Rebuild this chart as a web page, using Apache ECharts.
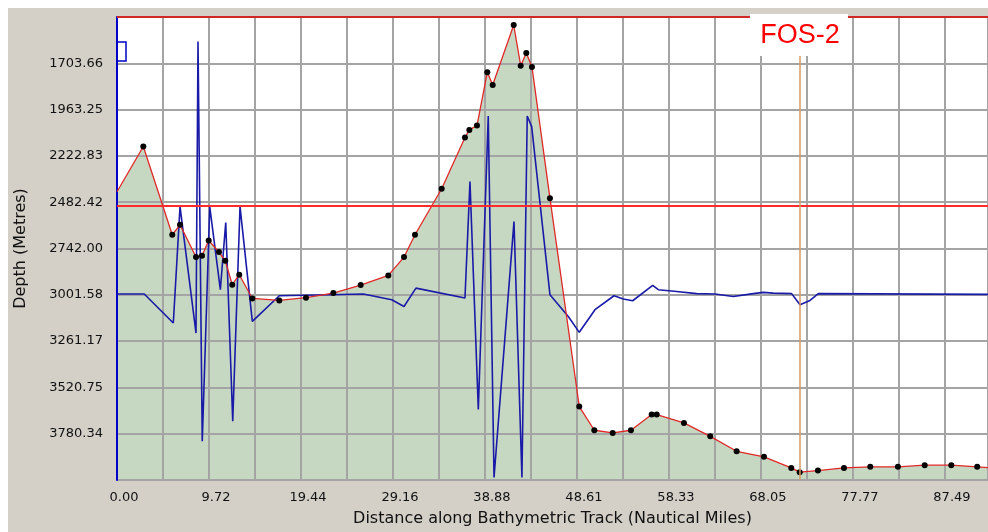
<!DOCTYPE html>
<html><head><meta charset="utf-8">
<script src="https://cdn.jsdelivr.net/npm/echarts/dist/echarts.min.js"></script>
<style>
html,body{margin:0;padding:0;background:#ffffff;}
#c{position:absolute;left:8px;top:8px;width:980px;height:524px;background:#d4d0c8;}
</style></head><body><div id="c"></div>
<script>
// ---- axes ----
const X_MIN = 0, X_MAX = 92.04, X_STEP = 4.8606;
const Y_MIN = 1444.08, Y_MAX = 4039.92, Y_STEP = 259.584;

// ---- bathymetry track (distance nm, depth m) ----
const trackDistance = [0, 2.78, 5.84, 6.66, 8.35, 8.98, 9.69, 10.78, 11.44, 12.18, 12.92, 14.30, 17.15, 19.97, 22.86, 25.75, 28.67, 30.33, 31.49, 34.31, 36.77, 37.23, 38.04, 39.13, 39.70, 41.92, 42.66, 43.25, 43.85, 45.75, 48.85, 50.44, 52.38, 54.31, 56.50, 57.03, 59.91, 62.69, 65.48, 68.37, 71.25, 72.14, 74.07, 76.82, 79.60, 82.52, 85.35, 88.16, 90.90, 92.04];
const trackDepth = [2424, 2170, 2665, 2609, 2790, 2783, 2697, 2762, 2811, 2945, 2889, 3022, 3033, 3018, 2992, 2947, 2893, 2790, 2665, 2407, 2120, 2077, 2053, 1754, 1825, 1489, 1717, 1646, 1724, 2460, 3628, 3761, 3776, 3761, 3673, 3673, 3720, 3795, 3879, 3910, 3972, 3996, 3987, 3972, 3966, 3966, 3957, 3957, 3966, 3970];

// ---- blue trace ----
const blueDistance = [0, 2.88, 5.95, 6.66, 8.35, 8.56, 9.01, 9.80, 10.92, 11.49, 12.23, 13.00, 14.30, 17.15, 22.51, 26.03, 29.03, 30.33, 31.59, 36.77, 37.30, 38.18, 39.23, 39.84, 41.95, 42.79, 43.35, 43.82, 45.75, 47.69, 48.85, 50.51, 52.52, 53.50, 54.49, 56.61, 57.20, 59.14, 61.25, 63.19, 65.12, 67.24, 68.29, 69.35, 71.29, 72.17, 73.23, 74.11, 92.04];
const blueDepth = [2997, 2997, 3160, 2507, 3216, 1582, 3823, 2507, 2973, 2596, 3711, 2507, 3151, 3007, 3001, 2997, 3029, 3067, 2964, 3020, 2367, 3645, 1999, 4026, 2591, 4026, 1999, 2059, 3001, 3123, 3212, 3085, 3007, 3025, 3035, 2949, 2973, 2983, 2995, 2997, 3011, 2995, 2988, 2992, 2995, 3057, 3033, 2995, 2999];

// ---- reference lines ----
const SURFACE_LINE = 1444.08;
const REF_DEPTH = 2500.9;
const FOS_X = 72.17;
const FOS_LABEL = 'FOS-2';

const trackData = trackDistance.map((d, i) => [d, trackDepth[i]]);
const blueData = blueDistance.map((d, i) => [d, blueDepth[i]]);
const lastIdx = trackData.length - 1;

const FONT = 'DejaVu Sans';
const chart = echarts.init(document.getElementById('c'));
chart.setOption({
  backgroundColor: '#d4d0c8',
  animation: false,
  grid: { left: 109, top: 9, right: 0, bottom: 52, show: true, backgroundColor: '#ffffff', borderWidth: 0, z: 0,
          containLabel: false, outerBoundsMode: 'none' },
  xAxis: {
    type: 'value', min: X_MIN, max: X_MAX, interval: X_STEP, z: 2,
    name: 'Distance along Bathymetric Track (Nautical Miles)', nameLocation: 'middle', nameGap: 31,
    nameTextStyle: { fontFamily: FONT, fontSize: 16, color: '#111' },
    axisLine: { show: false }, axisTick: { show: false },
    axisLabel: {
      showMaxLabel: false, margin: 11, padding: [0, 0, 0, 14],
      fontFamily: FONT, fontSize: 13, color: '#111',
      formatter: v => (Math.round(v / X_STEP) % 2 === 0 ? v.toFixed(2) : '')
    },
    splitLine: { show: true, lineStyle: { color: '#a4a4a4', width: 2 } }
  },
  yAxis: {
    type: 'value', inverse: true, min: Y_MIN, max: Y_MAX, interval: Y_STEP, z: 2,
    name: 'Depth (Metres)', nameLocation: 'middle', nameGap: 88, nameRotate: 90,
    nameTextStyle: { fontFamily: FONT, fontSize: 16, color: '#111' },
    axisLine: { show: true, lineStyle: { color: '#0000c8', width: 2 } },
    axisTick: { show: false },
    axisLabel: {
      showMinLabel: false, showMaxLabel: false, margin: 14,
      fontFamily: FONT, fontSize: 13, color: '#111',
      formatter: v => v.toFixed(2)
    },
    splitLine: { show: true, lineStyle: { color: '#a4a4a4', width: 2 } }
  },
  series: [
    {
      type: 'line', data: trackData, z: 1, showSymbol: false, silent: true,
      lineStyle: { width: 0 },
      areaStyle: { origin: 'end', color: '#c7d8c2', opacity: 1 }
    },
    {
      type: 'line', data: blueData, z: 3, showSymbol: false, silent: true,
      lineStyle: { color: '#1a1aa8', width: 1.6 }
    },
    {
      type: 'line', data: trackData, z: 4, silent: true,
      symbol: (v, p) => (p.dataIndex === 0 || p.dataIndex === lastIdx) ? 'none' : 'circle',
      symbolSize: 6,
      itemStyle: { color: '#000' },
      lineStyle: { color: '#e02828', width: 1.3 },
      markLine: {
        silent: true, symbol: 'none', label: { show: false }, animation: false,
        data: [
          { yAxis: SURFACE_LINE, lineStyle: { color: '#d02828', width: 2, type: 'solid' } },
          { yAxis: REF_DEPTH, lineStyle: { color: '#ff2a2a', width: 2, type: 'solid' } },
          { xAxis: FOS_X, lineStyle: { color: '#d49a66', width: 1.5, type: 'solid' } }
        ]
      }
    }
  ]
});

const p0 = chart.convertToPixel({ gridIndex: 0 }, [X_MIN, Y_MIN]);
const pf = chart.convertToPixel({ gridIndex: 0 }, [FOS_X, Y_MIN]);
chart.setOption({
  graphic: [
    { type: 'rect', z: 10, shape: { x: p0[0], y: p0[1] + 25, width: 9, height: 19 },
      style: { fill: 'none', stroke: '#0000c8', lineWidth: 1.5 } },
    { type: 'rect', z: 10, shape: { x: pf[0] - 50, y: p0[1] - 3, width: 98, height: 42 },
      style: { fill: '#ffffff' } },
    { type: 'text', z: 11, x: pf[0], y: p0[1] + 19,
      style: { text: FOS_LABEL, fill: '#ff0000', font: '27px "Liberation Sans"', align: 'center', verticalAlign: 'middle' } }
  ]
});
</script></body></html>
